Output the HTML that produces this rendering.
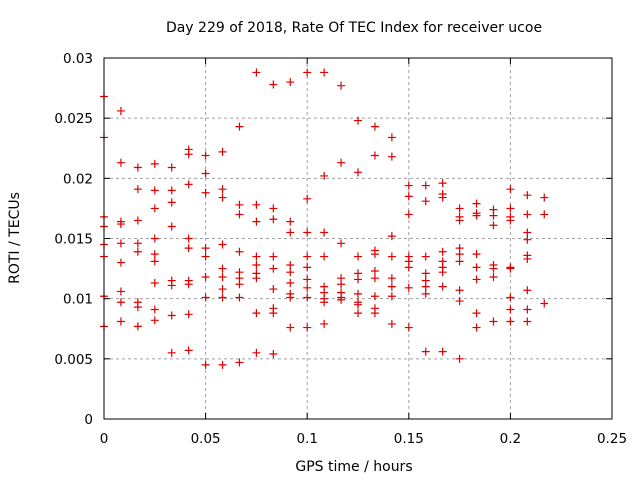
<!DOCTYPE html>
<html><head><meta charset="utf-8"><style>
body{margin:0;background:#fff}
svg{display:block;font-family:"DejaVu Sans","Liberation Sans",sans-serif}
</style></head><body>
<svg id="chart" width="640" height="480" viewBox="0 0 640 480" xmlns="http://www.w3.org/2000/svg">
<rect width="640" height="480" fill="#fff"/>
<text x="354" y="32" font-size="14" text-anchor="middle">Day 229 of 2018, Rate Of TEC Index for receiver ucoe</text>
<text transform="translate(19,238) rotate(-90)" font-size="14" text-anchor="middle">ROTI / TECUs</text>
<text x="354" y="471" font-size="14" text-anchor="middle">GPS time / hours</text>
<g id="grid"></g><g id="ticks"></g><g id="pts"></g>
<rect x="104" y="58" width="508" height="361" fill="none" stroke="#000" stroke-width="1"/>
</svg>
<script>
const xTicks=[0,0.05,0.1,0.15,0.2,0.25];
const xTickLabels=["0","0.05","0.1","0.15","0.2","0.25"];
const yTicks=[0,0.005,0.01,0.015,0.02,0.025,0.03];
const yTickLabels=["0","0.005","0.01","0.015","0.02","0.025","0.03"];
const rotiCols=[
[0.0268,0.0234,0.0168,0.0160,0.0145,0.0135,0.0102,0.0077],
[0.0256,0.0213,0.0164,0.0162,0.0146,0.0130,0.0106,0.0097,0.0081],
[0.0209,0.0191,0.0165,0.0146,0.0139,0.0097,0.0093,0.0077],
[0.0212,0.0190,0.0175,0.0150,0.0137,0.0131,0.0113,0.0091,0.0082],
[0.0209,0.0190,0.0180,0.0160,0.0115,0.0111,0.0086,0.0055],
[0.0224,0.0220,0.0195,0.0150,0.0142,0.0115,0.0112,0.0087,0.0057],
[0.0219,0.0204,0.0188,0.0142,0.0135,0.0118,0.0101,0.0045],
[0.0222,0.0191,0.0184,0.0145,0.0125,0.0118,0.0108,0.0101,0.0045],
[0.0243,0.0178,0.0170,0.0139,0.0122,0.0117,0.0112,0.0101,0.0047],
[0.0288,0.0178,0.0164,0.0135,0.0128,0.0121,0.0117,0.0088,0.0055],
[0.0278,0.0175,0.0166,0.0135,0.0125,0.0108,0.0092,0.0088,0.0054],
[0.0280,0.0164,0.0155,0.0128,0.0122,0.0113,0.0104,0.0101,0.0076],
[0.0288,0.0183,0.0155,0.0135,0.0126,0.0116,0.0109,0.0101,0.0076],
[0.0288,0.0202,0.0155,0.0135,0.0110,0.0105,0.0100,0.0097,0.0079],
[0.0277,0.0213,0.0146,0.0117,0.0112,0.0105,0.0101,0.0099],
[0.0248,0.0205,0.0135,0.0121,0.0116,0.0104,0.0097,0.0095,0.0088],
[0.0243,0.0219,0.0140,0.0137,0.0123,0.0117,0.0102,0.0092,0.0088],
[0.0234,0.0218,0.0152,0.0135,0.0117,0.0110,0.0102,0.0079],
[0.0194,0.0185,0.0170,0.0135,0.0131,0.0126,0.0109,0.0076],
[0.0194,0.0181,0.0135,0.0121,0.0115,0.0110,0.0104,0.0056],
[0.0196,0.0187,0.0184,0.0139,0.0131,0.0126,0.0122,0.0110,0.0056],
[0.0175,0.0168,0.0165,0.0142,0.0137,0.0131,0.0107,0.0098,0.0050],
[0.0179,0.0171,0.0169,0.0137,0.0126,0.0116,0.0088,0.0076],
[0.0174,0.0169,0.0161,0.0128,0.0125,0.0118,0.0081],
[0.0191,0.0175,0.0168,0.0165,0.0126,0.0125,0.0101,0.0091,0.0081],
[0.0186,0.0170,0.0155,0.0149,0.0136,0.0133,0.0107,0.0091,0.0081],
[0.0184,0.0170,0.0096]
];
const timeStep=1/120;
const NS="http://www.w3.org/2000/svg";
const X0=104,X1=612,Y0=419,Y1=58;
function sx(v){return X0+(v-0)/(0.25-0)*(X1-X0);}
function sy(v){return Y0-(v-0)/(0.03-0)*(Y0-Y1);}
function mk(tag,at,parent){const e=document.createElementNS(NS,tag);for(const k in at)e.setAttribute(k,at[k]);parent.appendChild(e);return e;}
const grid=document.getElementById('grid'),ticks=document.getElementById('ticks'),pts=document.getElementById('pts');
xTicks.forEach((t,i)=>{const x=sx(t);
 if(i>0&&i<xTicks.length-1){const g=mk('line',{x1:x,x2:x,y1:Y1,y2:Y0,stroke:'#a0a0a0','stroke-dasharray':'3,3'},grid);
 
 }
 mk('line',{x1:x,x2:x,y1:Y0,y2:Y0-6,stroke:'#000'},ticks);
 mk('line',{x1:x,x2:x,y1:Y1,y2:Y1+6,stroke:'#000'},ticks);
 const tx=mk('text',{x:x,y:443,'font-size':13.5,'text-anchor':'middle'},ticks);tx.textContent=xTickLabels[i];
 
 
});
yTicks.forEach((t,i)=>{const y=sy(t);
 if(i>0&&i<yTicks.length-1){const g=mk('line',{x1:X0,x2:X1,y1:y,y2:y,stroke:'#a0a0a0','stroke-dasharray':'3,3'},grid);
 
 }
 mk('line',{x1:X0,x2:X0+6,y1:y,y2:y,stroke:'#000'},ticks);
 mk('line',{x1:X1,x2:X1-6,y1:y,y2:y,stroke:'#000'},ticks);
 const tx=mk('text',{x:93,y:y+5,'font-size':13.5,'text-anchor':'end'},ticks);tx.textContent=yTickLabels[i];
 
 
});
rotiCols.forEach((col,i)=>{const t=i*timeStep;col.forEach(v=>{
 const x=sx(t),y=sy(v);
 const p=mk('path',{d:`M${x-4},${y}H${x+4}M${x},${y-4}V${y+4}`,stroke:'#e00000','stroke-width':1.2,fill:'none'},pts);
 
 
});});
</script>
</body></html>
